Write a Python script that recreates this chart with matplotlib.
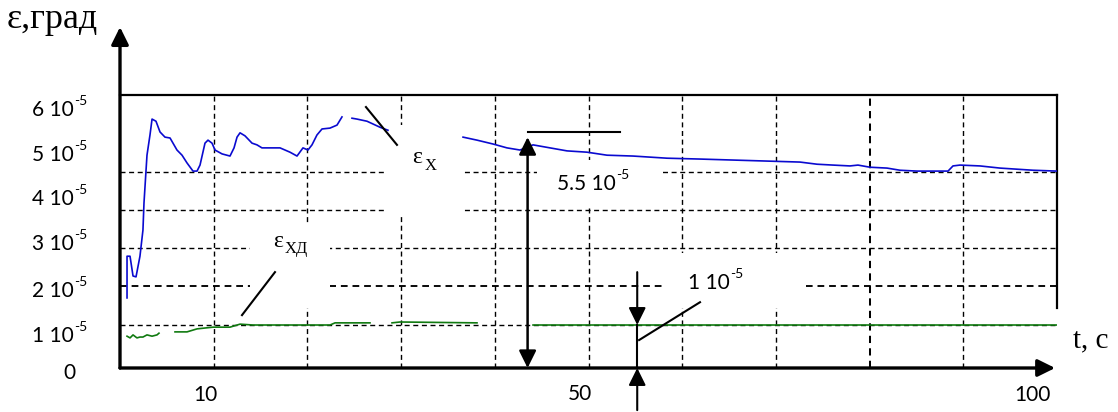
import numpy as np
import matplotlib.pyplot as plt
from matplotlib.patches import Rectangle
from matplotlib.lines import Line2D

nan = np.nan

# eps_X(t), units of 1e-5 rad (gaps where labels cover the curve)
t_x = [0.75, 0.75, 1.07, 1.39, 1.71, 2.13, 2.45, 2.56, 2.88, 3.20, 3.42, 3.84, 4.27, 4.80,
       5.34, 6.08, 6.62, 7.15, 7.79, 8.22, 8.54, 9.07, 9.39, 9.82, 10.14, 10.89, 11.74,
       12.17, 12.49, 12.81, 13.34, 14.09, 14.62, 15.15, 16.33, 17.08, 17.61, 18.14, 18.89,
       19.53, 20.06, 20.49, 21.02, 21.56, 22.41, 23.16, 23.69, 24.2, 24.76, 25.29, 26.36,
       27.75, 28.60, 32.0, 36.61, 38.10, 39.81, 41.30, 42.69, 44.08, 45.89, 47.71, 49.84,
       51.97, 54.75, 58.38, 61.90, 72.57, 74.39, 76.09, 77.91, 78.76, 80.04, 81.86, 83.24,
       85.06, 88.37, 88.90, 89.65, 91.78, 93.92, 97.44, 100.0]
eps_x = [1.63, 2.60, 2.60, 2.14, 2.12, 2.60, 3.21, 3.84, 4.95, 5.42, 5.79, 5.74, 5.49, 5.37,
         5.35, 5.07, 4.95, 4.77, 4.58, 4.58, 4.72, 5.23, 5.30, 5.23, 5.07, 4.98, 4.93,
         5.12, 5.37, 5.47, 5.40, 5.23, 5.19, 5.12, 5.12, 5.12, 5.07, 5.02, 4.93,
         5.12, 5.07, 5.19, 5.42, 5.56, 5.58, 5.65, 5.84, nan, 5.81, 5.79, 5.74,
         5.60, 5.53, nan, 5.37, 5.30, 5.21, 5.12, 5.07, 5.19, 5.12, 5.05, 5.02,
         4.95, 4.93, 4.88, 4.86, 4.79, 4.74, 4.72, 4.70, 4.72, 4.67, 4.65, 4.60,
         4.58, 4.58, 4.70, 4.72, 4.70, 4.65, 4.60, 4.58]

# eps_XD(t), units of 1e-5 rad
t_xd = [0.75, 1.07, 1.39, 1.81, 2.13, 2.45, 2.88, 3.42, 3.95, 4.16, 5.0, 5.87, 7.15, 8.22,
        9.93, 11.74, 12.81, 14.19, 22.41, 22.95, 26.68, 28.0, 29.03, 29.88, 38.10, 41.0,
        44.08, 100.0]
eps_xd = [0.74, 0.70, 0.77, 0.70, 0.72, 0.72, 0.77, 0.74, 0.77, 0.81, nan, 0.84, 0.84, 0.91,
          0.95, 0.95, 1.02, 1.00, 1.00, 1.05, 1.05, nan, 1.05, 1.07, 1.05, nan,
          1.00, 1.00]

x_grid = [10, 20, 30, 40, 50, 60, 70, 80, 90]
y_grid = [1.0, 1.9, 2.8, 3.67, 4.56]
y_tick_mant = ['6', '5', '4', '3', '2', '1']
x_tick_text = ['10', '50', '100']

W, H = 1118, 412
fig = plt.figure(figsize=(W / 100, H / 100), dpi=100)
ax = fig.add_axes([120 / W, 44 / H, 937 / W, 273 / H])
ax.set_xlim(0, 100)
ax.set_ylim(0, 6.35)


def fp(x, y):
    return x / W, 1 - y / H


# grid
ax.set_xticks(x_grid)
ax.set_yticks(y_grid)
ax.tick_params(length=0, labelbottom=False, labelleft=False)
ax.grid(True, color='k', lw=1.0, ls=(0, (3.6, 2.6)))
ax.get_ygridlines()[1].set_linewidth(1.35)
ax.get_xgridlines()[7].set_linewidth(1.45)

for s in ['left', 'bottom', 'right']:
    ax.spines[s].set_visible(False)
ax.spines['top'].set_linewidth(1.6)
ax.add_line(Line2D([1, 1], [0.22, 1], transform=ax.transAxes, color='k', lw=1.6,
                   clip_on=False))

# white boxes behind labels
for x0, x1, y0, y1 in [(28.3, 36.6, 3.56, 5.65), (13.9, 22.4, 1.40, 3.33),
                       (44.5, 57.6, 3.74, 4.84), (58.2, 73.2, 1.40, 2.67)]:
    ax.add_patch(Rectangle((x0, y0), x1 - x0, y1 - y0, fc='white', ec='none', zorder=1.8))

ax.plot(t_x, eps_x, color='#0a0ad0', lw=1.2, zorder=3)
ax.plot(t_xd, eps_xd, color='#107a10', lw=1.2, zorder=3)

# axes arrows
head = '-|>,head_length=1.05,head_width=0.52'
ax.annotate('', xy=(0, 1.249), xycoords='axes fraction', xytext=(0, 0),
            arrowprops=dict(arrowstyle=head, lw=2.4, color='k', shrinkA=0, shrinkB=0,
                            mutation_scale=10), annotation_clip=False)
ax.annotate('', xy=(0.998, 0), xycoords='axes fraction', xytext=(0, 0),
            arrowprops=dict(arrowstyle=head, lw=2.4, color='k', shrinkA=0, shrinkB=0,
                            mutation_scale=10), annotation_clip=False)

# dimension arrows
dbl = '<|-|>,head_length=1.05,head_width=0.52'
ax.annotate('', xy=(43.5, 5.37), xytext=(43.5, 0.0),
            arrowprops=dict(arrowstyle=dbl, lw=1.8, color='k', shrinkA=0, shrinkB=0,
                            mutation_scale=10), annotation_clip=False)
ax.plot([43.5, 53.4], [5.5, 5.5], color='k', lw=1.5, zorder=4)
ax.annotate('', xy=(55.2, 1.0), xytext=(55.2, 2.23),
            arrowprops=dict(arrowstyle=head, lw=1.5, color='k', shrinkA=0, shrinkB=0,
                            mutation_scale=10), annotation_clip=False)
ax.plot([55.2, 55.2], [1.0, 0.0], color='k', lw=1.5, zorder=4)
ax.annotate('', xy=(55.2, 0.0), xytext=(55.2, -0.98),
            arrowprops=dict(arrowstyle=head, lw=1.5, color='k', shrinkA=0, shrinkB=0,
                            mutation_scale=10), annotation_clip=False)

# leader lines
for xs, ys in [([26.25, 29.56], [6.07, 5.19]), ([16.54, 13.02], [2.23, 1.23]),
               ([61.9, 55.4], [1.53, 0.65])]:
    ax.plot(xs, ys, color='k', lw=1.5, zorder=4, clip_on=False)


def sci(x, y, mant):
    t = fig.text(*fp(x, y), mant + ' 10', fontsize=15, family='Lato', va='center', ha='left')
    ax.annotate('-5', xy=(1, 1), xycoords=t, xytext=(0.3, -1), textcoords='offset points',
                fontsize=10, family='Lato', va='center', ha='left', annotation_clip=False)


for m, y in zip(y_tick_mant, [110, 155, 199, 244, 291, 336]):
    sci(32, y, m)
fig.text(*fp(69, 373), '0', fontsize=15, family='Lato', va='center', ha='center')
for lab, x, y in zip(x_tick_text, [205, 580, 1032], [395, 394, 395]):
    fig.text(*fp(x, y), lab, fontsize=15, family='Lato', va='center', ha='center')

sci(557, 184, '5.5')
sci(688, 283, '1')

serif = 'Liberation Serif'
fig.text(*fp(7, 28), 'ε,град', fontsize=26, family=serif, va='baseline', ha='left')
fig.text(*fp(1073, 347), 't, c', fontsize=21, family=serif, va='baseline', ha='left')
fig.text(*fp(412, 163), 'ε', fontsize=17, family=serif, va='baseline', ha='left')
fig.text(*fp(425, 170), 'Х', fontsize=12, family=serif, va='baseline', ha='left')
fig.text(*fp(273, 247), 'ε', fontsize=17, family=serif, va='baseline', ha='left')
fig.text(*fp(285, 253), 'ХД', fontsize=12, family=serif, va='baseline', ha='left')

fig.savefig('out.png', dpi=100)
